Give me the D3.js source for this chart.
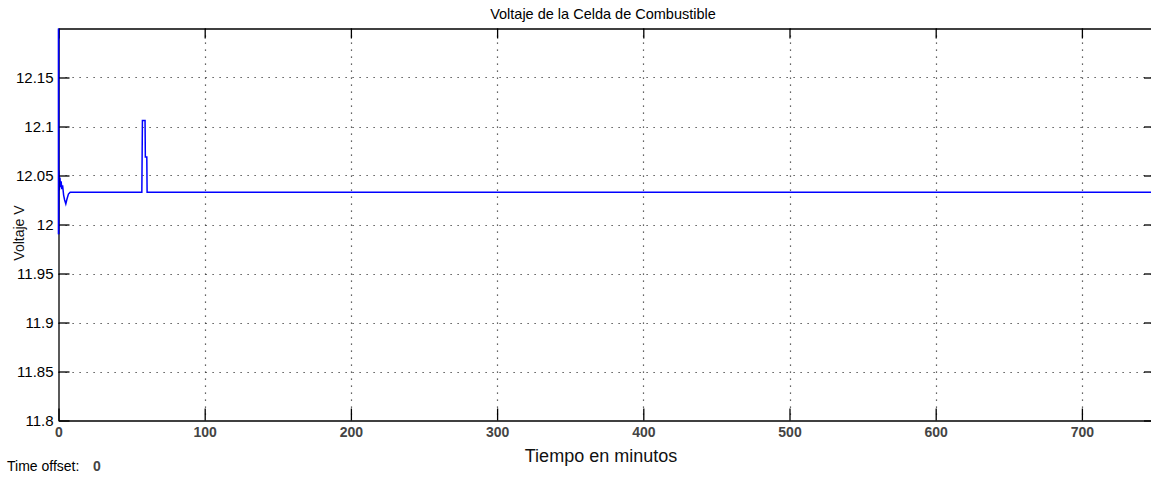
<!DOCTYPE html>
<html>
<head>
<meta charset="utf-8">
<script src="https://cdn.jsdelivr.net/npm/d3@7"></script>
<style>
    body { margin: 0; background: #fff; }
    svg { display: block; font-family: "Liberation Sans", Arial, sans-serif; }
</style>
</head>
<body>
<div id="chart"></div>
<script>
// Fuel cell voltage trace
const timeMin = [0, 0.1, 0.3, 0.6, 1.0, 1.4, 1.8, 2.3, 2.8, 3.5, 4.2, 5.0, 5.8, 6.8, 8.0, 57.0, 57.4, 59.2, 59.4, 60.4, 60.6, 750]
const voltage = [12.25, 11.99, 12.055, 12.035, 12.048, 12.038, 12.044, 12.036, 12.04, 12.03, 12.025, 12.021, 12.026, 12.031, 12.033, 12.033, 12.106, 12.106, 12.069, 12.069, 12.033, 12.033]
const xTicks = [0, 100, 200, 300, 400, 500, 600, 700]
const yTicks = [11.8, 11.85, 11.9, 11.95, 12, 12.05, 12.1, 12.15]
const xDomain = [0, 750]
const yDomain = [11.8, 12.2]

const width = 1151
const height = 477
const margin = {top: 28.5, left: 58.5, bottom: 420.5, right: 1155}

var svg = d3.select("#chart").append("svg")
    .attr("width", width)
    .attr("height", height)

var x = d3.scaleLinear().domain(xDomain).range([margin.left, margin.right])
var y = d3.scaleLinear().domain(yDomain).range([margin.bottom, margin.top])

// dotted grid
var grid = svg.append("g").attr("stroke", "#333").attr("stroke-width", 1.2).attr("stroke-dasharray", "1.2,5.8")
grid.selectAll(".gx").data(xTicks.filter(d => d > 0)).enter().append("line")
    .attr("x1", d => Math.round(x(d)) + 0.5).attr("x2", d => Math.round(x(d)) + 0.5)
    .attr("y1", margin.top).attr("y2", margin.bottom)
grid.selectAll(".gy").data(yTicks.filter(d => d > yDomain[0])).enter().append("line")
    .attr("y1", d => Math.round(y(d)) + 0.5).attr("y2", d => Math.round(y(d)) + 0.5)
    .attr("x1", margin.left).attr("x2", margin.right)

// the signal
svg.append("clipPath").attr("id", "plotclip").append("rect")
    .attr("x", margin.left).attr("y", margin.top)
    .attr("width", margin.right - margin.left).attr("height", margin.bottom - margin.top)

var line = d3.line()
    .x((d, i) => x(timeMin[i]))
    .y(d => y(d))

svg.append("path")
    .datum(voltage)
    .attr("clip-path", "url(#plotclip)")
    .attr("fill", "none")
    .attr("stroke", "#0000ff")
    .attr("stroke-width", 1.5)
    .attr("d", line)

// axes, ticks pointing inward like the scope
function styleAxis(g) {
    g.select(".domain").attr("stroke", "#000").attr("stroke-width", 1.3)
    g.selectAll(".tick line").attr("stroke", "#000").attr("stroke-width", 1.3)
}

var bottomAxis = svg.append("g")
    .attr("transform", "translate(0," + margin.bottom + ")")
    .call(d3.axisBottom(x).tickValues(xTicks).tickSize(-12).tickSizeOuter(0).tickPadding(7).tickFormat(d => d))
    .call(styleAxis)
bottomAxis.selectAll("text").attr("font-size", 14).attr("font-weight", "bold").attr("fill", "#444")

svg.append("g")
    .attr("transform", "translate(0," + margin.top + ")")
    .call(d3.axisTop(x).tickValues(xTicks).tickSize(-10).tickSizeOuter(0).tickFormat(""))
    .call(styleAxis)

var leftAxis = svg.append("g")
    .attr("transform", "translate(" + margin.left + ",0)")
    .call(d3.axisLeft(y).tickValues(yTicks).tickSize(-11).tickSizeOuter(0).tickPadding(5).tickFormat(d => d))
    .call(styleAxis)
leftAxis.selectAll("text").attr("font-size", 15).attr("fill", "#000")

svg.append("g")
    .attr("transform", "translate(" + margin.right + ",0)")
    .call(d3.axisRight(y).tickValues(yTicks).tickSize(-11).tickSizeOuter(0).tickFormat(""))
    .call(styleAxis)

// the blue trace sits over the left axis at t = 0
svg.append("line")
    .attr("x1", x(0)).attr("x2", x(0))
    .attr("y1", margin.top).attr("y2", y(voltage[1]))
    .attr("stroke", "#0000ff").attr("stroke-width", 1.6)

// labels
svg.append("text")
    .attr("x", 603).attr("y", 19)
    .attr("text-anchor", "middle")
    .attr("font-size", 14.5)
    .text("Voltaje de la Celda de Combustible")

svg.append("text")
    .attr("x", 601).attr("y", 462)
    .attr("text-anchor", "middle")
    .attr("font-size", 18)
    .attr("fill", "#111")
    .text("Tiempo en minutos")

svg.append("text")
    .attr("transform", "translate(24,233) rotate(-90)")
    .attr("text-anchor", "middle")
    .attr("font-size", 14)
    .attr("fill", "#111")
    .text("Voltaje V")

svg.append("text")
    .attr("x", 7).attr("y", 471)
    .attr("font-size", 14)
    .text("Time offset:")
svg.append("text")
    .attr("x", 93).attr("y", 471)
    .attr("font-size", 14)
    .attr("font-weight", "bold")
    .attr("fill", "#444")
    .text("0")
</script>
</body>
</html>
